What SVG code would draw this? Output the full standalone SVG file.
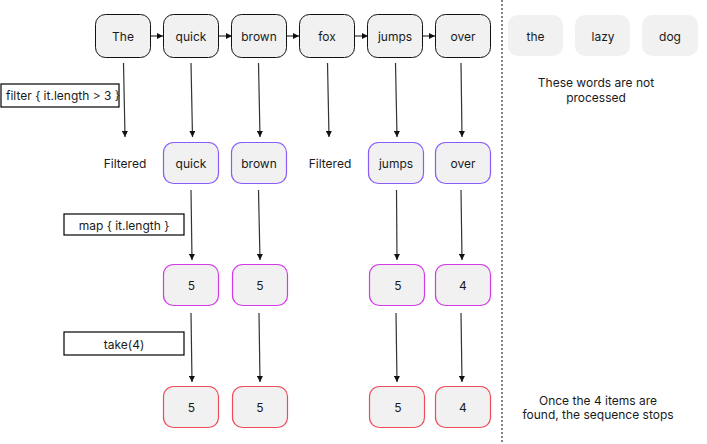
<svg xmlns="http://www.w3.org/2000/svg" width="707" height="444" viewBox="0 0 707 444">
  <style>
    text { font-family: Inter, "Noto Sans", "Liberation Sans", sans-serif; font-size: 12px; fill: #1a1a1a; }
    .c { text-anchor: middle; dominant-baseline: central; }
    .word { fill: #f1f1f1; stroke: #111; stroke-width: 1; }
    .idle { fill: #f1f1f1; stroke: none; }
    .filt { fill: #f1f1f1; stroke: #8a5cf6; stroke-width: 1.2; }
    .mapd { fill: #f1f1f1; stroke: #d23ae6; stroke-width: 1.2; }
    .took { fill: #f1f1f1; stroke: #ee4b5b; stroke-width: 1.2; }
    .op { fill: #fff; stroke: #000; stroke-width: 1.2; }
    .edge { stroke: #333; stroke-width: 1.2; fill: none; marker-end: url(#tip); }
  </style>
  <defs>
    <marker id="tip" viewBox="0 0 10 10" refX="10" refY="5" markerWidth="6" markerHeight="6" markerUnits="userSpaceOnUse" orient="auto">
      <path d="M0,0 L10,5 L0,10 z" fill="#111"/>
    </marker>
  </defs>

  <!-- divider between processed and unprocessed words -->
  <line x1="502" y1="0" x2="502" y2="444" stroke="#333" stroke-width="1.2" stroke-dasharray="2,2"/>

  <!-- connectors -->
  <g id="connectors">
    <line class="edge" x1="151" y1="36" x2="163" y2="36"/>
    <line class="edge" x1="219" y1="36" x2="232" y2="36"/>
    <line class="edge" x1="287" y1="36" x2="299" y2="36"/>
    <line class="edge" x1="355" y1="36" x2="368" y2="36"/>
    <line class="edge" x1="423" y1="36" x2="435" y2="36"/>

    <line class="edge" x1="123.5" y1="63" x2="125" y2="137"/>
    <line class="edge" x1="191" y1="63" x2="192.5" y2="137"/>
    <line class="edge" x1="258.5" y1="63" x2="260" y2="137"/>
    <line class="edge" x1="327.5" y1="63" x2="329" y2="137"/>
    <line class="edge" x1="395.5" y1="63" x2="397" y2="137"/>
    <line class="edge" x1="461" y1="63" x2="462" y2="137"/>

    <line class="edge" x1="191" y1="190" x2="192" y2="260"/>
    <line class="edge" x1="258.5" y1="190" x2="260" y2="260"/>
    <line class="edge" x1="396.5" y1="190" x2="397" y2="260"/>
    <line class="edge" x1="461" y1="190" x2="462" y2="260"/>

    <line class="edge" x1="191" y1="313" x2="192" y2="382"/>
    <line class="edge" x1="259" y1="313" x2="260" y2="382"/>
    <line class="edge" x1="396" y1="313" x2="397" y2="382"/>
    <line class="edge" x1="461" y1="313" x2="462" y2="382"/>
  </g>

  <!-- source words -->
  <g id="w-the"><rect class="word" x="95.5" y="14.5" width="55" height="43" rx="10"/><text class="c" x="123" y="36">The</text></g>
  <g id="w-quick"><rect class="word" x="163.5" y="14.5" width="55" height="43" rx="10"/><text class="c" x="191" y="36">quick</text></g>
  <g id="w-brown"><rect class="word" x="231.5" y="14.5" width="55" height="43" rx="10"/><text class="c" x="259" y="36">brown</text></g>
  <g id="w-fox"><rect class="word" x="299.5" y="14.5" width="55" height="43" rx="10"/><text class="c" x="327" y="36">fox</text></g>
  <g id="w-jumps"><rect class="word" x="367.5" y="14.5" width="55" height="43" rx="10"/><text class="c" x="395" y="36">jumps</text></g>
  <g id="w-over"><rect class="word" x="435.5" y="14.5" width="55" height="43" rx="10"/><text class="c" x="463" y="36">over</text></g>

  <g id="w-the2"><rect class="idle" x="508" y="15" width="55" height="41" rx="10"/><text class="c" x="535.5" y="36">the</text></g>
  <g id="w-lazy"><rect class="idle" x="575" y="15" width="55" height="41" rx="10"/><text class="c" x="603" y="36">lazy</text></g>
  <g id="w-dog"><rect class="idle" x="642" y="15" width="56" height="41" rx="10"/><text class="c" x="670" y="36">dog</text></g>
  <g id="note-unprocessed">
    <text class="c" x="596" y="82">These words are not</text>
    <text class="c" x="596" y="97">processed</text>
  </g>

  <!-- operations -->
  <g id="op-filter"><rect class="op" x="1" y="84" width="118" height="23"/><text x="6" y="95.5" dominant-baseline="central">filter { it.length &gt; 3 }</text></g>
  <g id="op-map"><rect class="op" x="64" y="214" width="120" height="21"/><text class="c" x="124" y="225">map { it.length }</text></g>
  <g id="op-take"><rect class="op" x="64" y="332" width="120" height="23"/><text class="c" x="124" y="344">take(4)</text></g>

  <!-- after filter -->
  <g id="f-the"><text class="c" x="125" y="163">Filtered</text></g>
  <g id="f-quick"><rect class="filt" x="163.5" y="142.5" width="55" height="41" rx="10"/><text class="c" x="191" y="163">quick</text></g>
  <g id="f-brown"><rect class="filt" x="231.5" y="142.5" width="55" height="41" rx="10"/><text class="c" x="259" y="163">brown</text></g>
  <g id="f-fox"><text class="c" x="330" y="163">Filtered</text></g>
  <g id="f-jumps"><rect class="filt" x="368.5" y="142.5" width="55" height="41" rx="10"/><text class="c" x="396" y="163">jumps</text></g>
  <g id="f-over"><rect class="filt" x="435.5" y="142.5" width="55" height="41" rx="10"/><text class="c" x="463" y="163">over</text></g>

  <!-- after map -->
  <g id="m-quick"><rect class="mapd" x="163.5" y="264.5" width="55" height="41" rx="10"/><text class="c" x="191.5" y="285">5</text></g>
  <g id="m-brown"><rect class="mapd" x="232.5" y="264.5" width="55" height="41" rx="10"/><text class="c" x="260" y="285">5</text></g>
  <g id="m-jumps"><rect class="mapd" x="369.5" y="264.5" width="55" height="41" rx="10"/><text class="c" x="398" y="285">5</text></g>
  <g id="m-over"><rect class="mapd" x="435.5" y="264.5" width="55" height="41" rx="10"/><text class="c" x="463" y="285">4</text></g>

  <!-- after take -->
  <g id="t-quick"><rect class="took" x="163.5" y="386.5" width="55" height="41" rx="10"/><text class="c" x="191.5" y="407">5</text></g>
  <g id="t-brown"><rect class="took" x="232.5" y="386.5" width="55" height="41" rx="10"/><text class="c" x="260" y="407">5</text></g>
  <g id="t-jumps"><rect class="took" x="369.5" y="386.5" width="55" height="41" rx="10"/><text class="c" x="398" y="407">5</text></g>
  <g id="t-over"><rect class="took" x="435.5" y="386.5" width="55" height="41" rx="10"/><text class="c" x="463" y="407">4</text></g>

  <g id="note-stop">
    <text class="c" x="598" y="400">Once the 4 items are</text>
    <text class="c" x="598" y="414">found, the sequence stops</text>
  </g>
</svg>
